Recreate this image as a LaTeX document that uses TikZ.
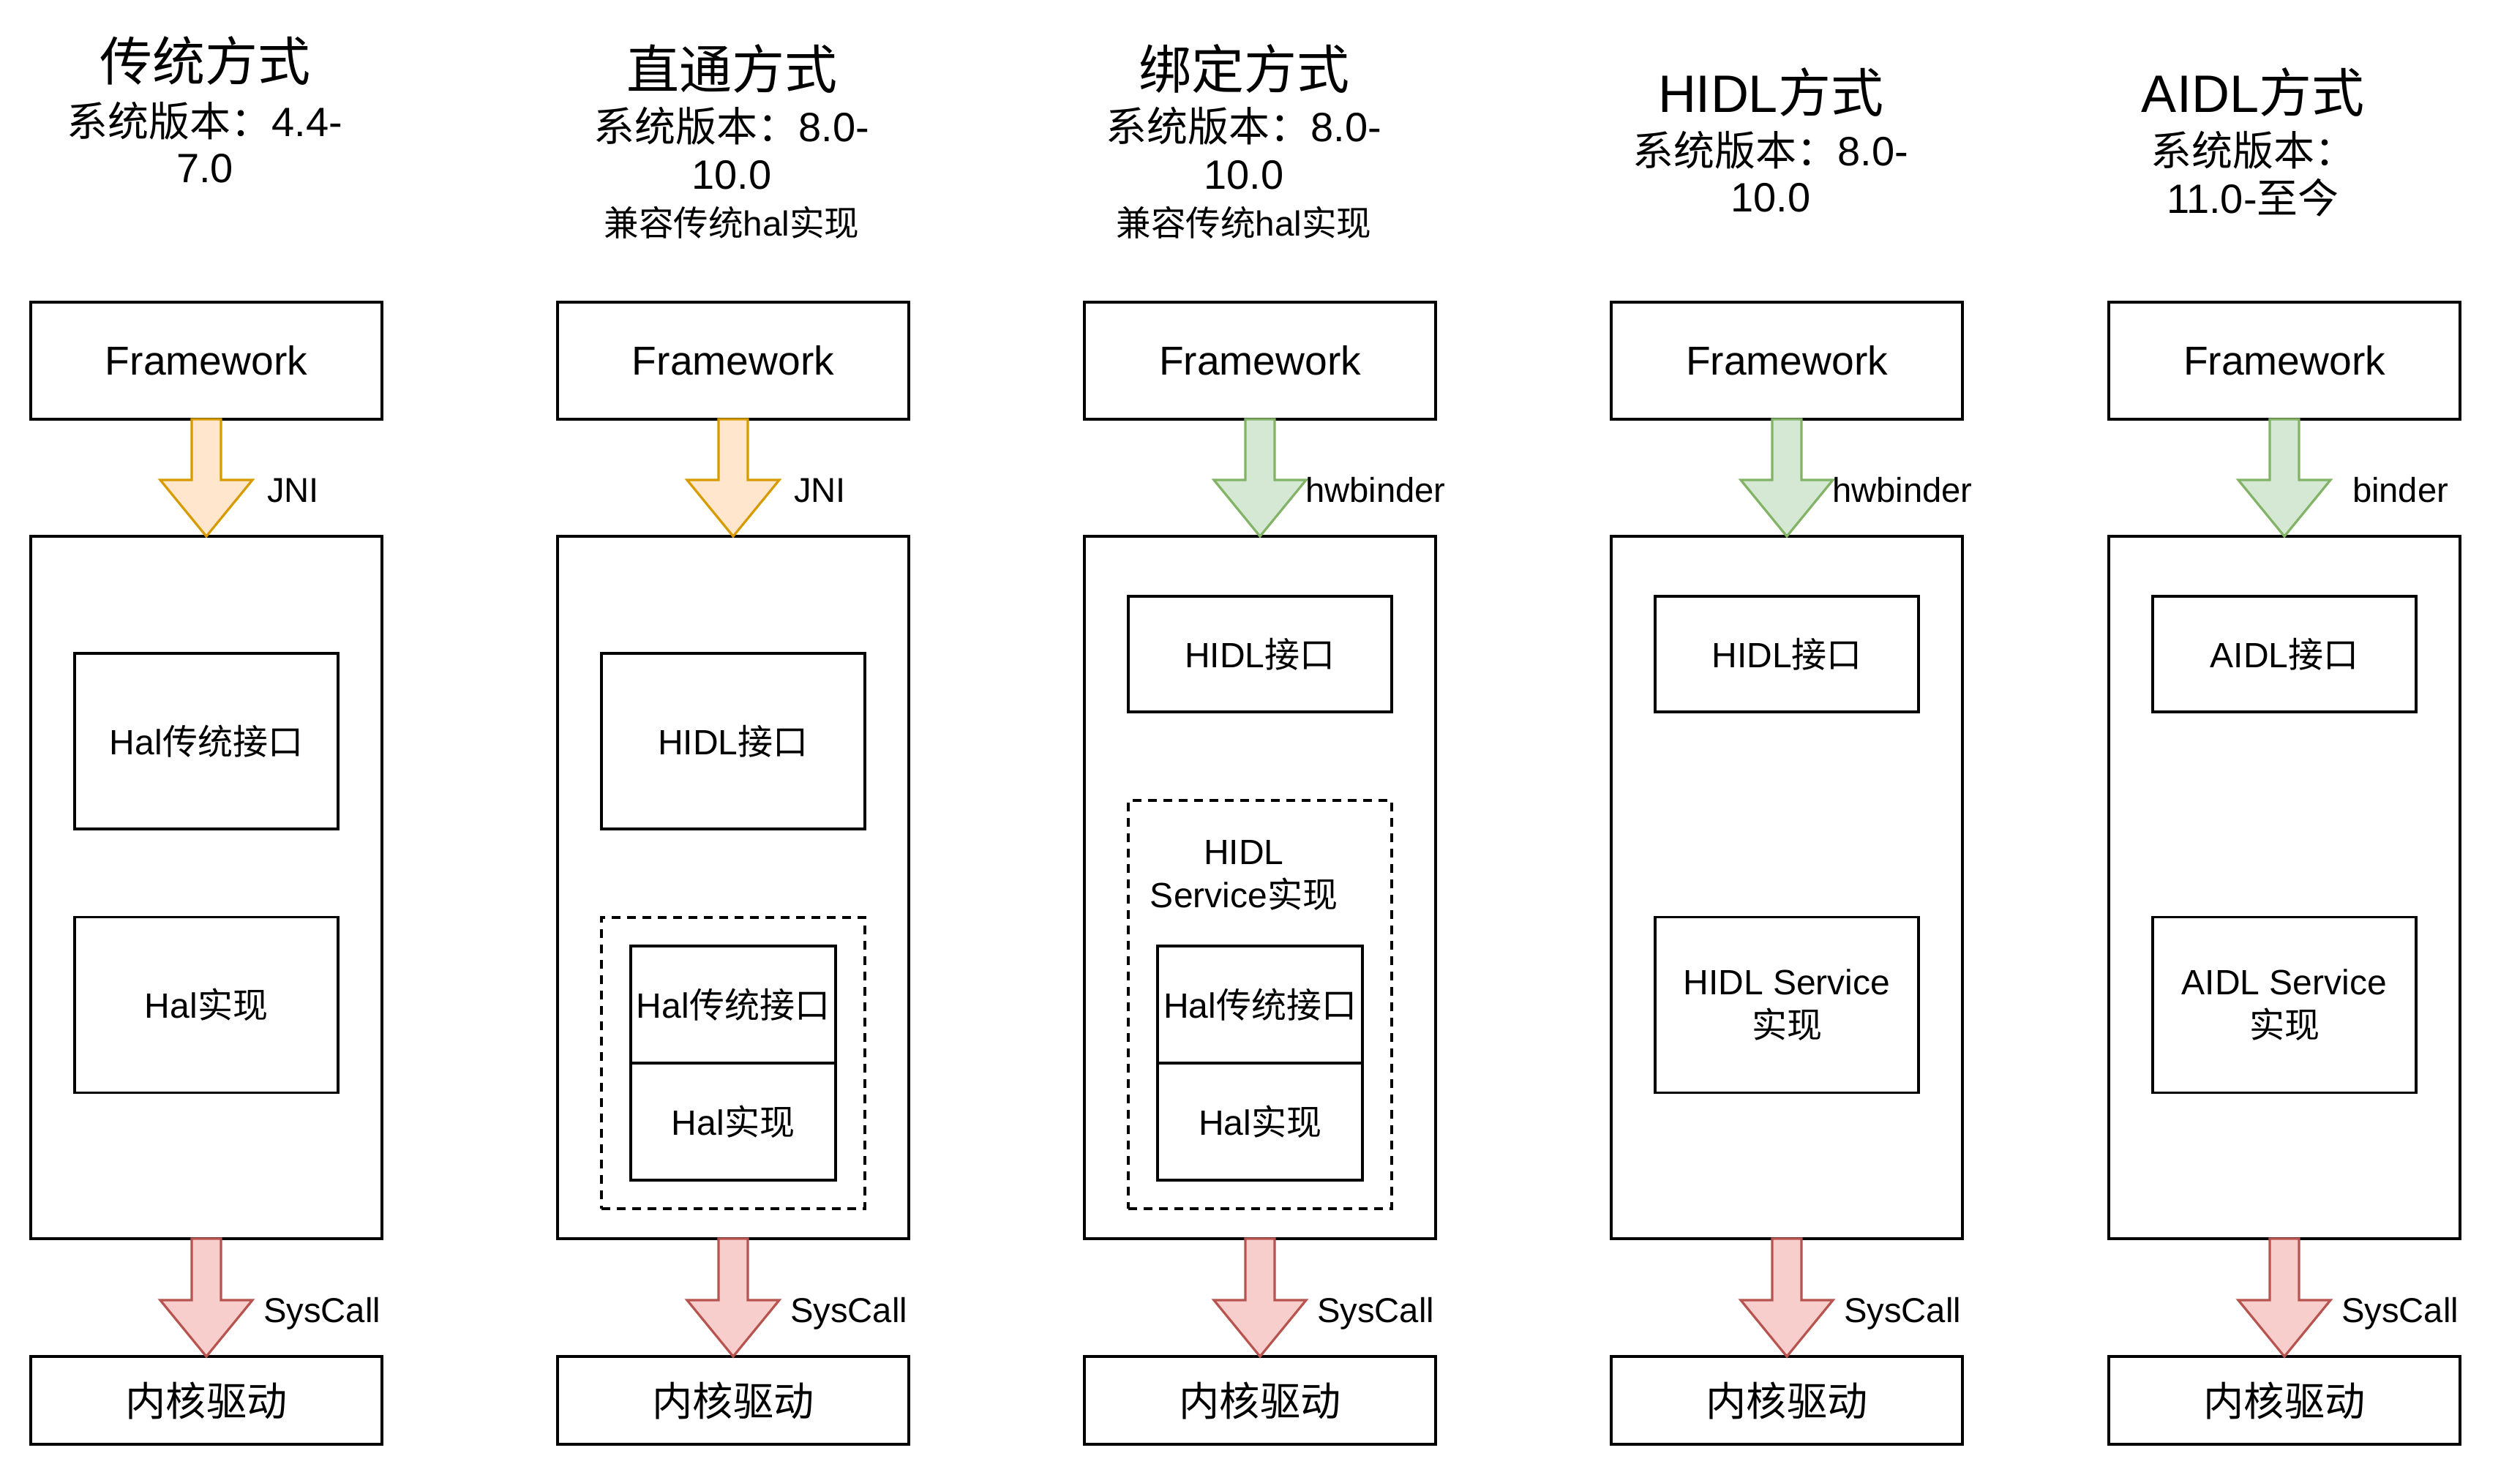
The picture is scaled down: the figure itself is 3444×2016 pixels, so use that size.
\documentclass[tikz,border=0pt]{standalone}
\usepackage{fontspec}
\setmainfont{Liberation Sans}
\newfontfamily\cjk{Noto Sans CJK SC}
\newcommand\zh[1]{{\cjk #1}}
\usetikzlibrary{calc}
\definecolor{orfill}{HTML}{FFE6CC}
\definecolor{orline}{HTML}{D79B00}
\definecolor{grfill}{HTML}{D5E8D4}
\definecolor{grline}{HTML}{82B366}
\definecolor{rdfill}{HTML}{F8CECC}
\definecolor{rdline}{HTML}{B85450}
\newcommand\fatarrow[3]{%
  \draw[#3] ($(#1.south)+(-20,0)$) -- ($(#1.south)+(20,0)$) -- ($(#2.north)+(20,-77)$) -- ($(#2.north)+(63,-77)$) -- (#2.north) -- ($(#2.north)+(-63,-77)$) -- ($(#2.north)+(-20,-77)$) -- cycle;}
\tikzset{
  every node/.style={inner sep=0pt, outer sep=0pt},
  box/.style={draw, line width=1.6pt, minimum width=240pt, align=center, font=\fontsize{27.6}{33}\selectfont},
  ibox/.style={draw, line width=1.6pt, align=center, font=\fontsize{24}{29.5}\selectfont},
  dbox/.style={draw, line width=1.6pt, dash pattern=on 6pt off 4.5pt},
  ttl/.style={font=\fontsize{36}{43}\selectfont},
  sub/.style={font=\fontsize{28}{33}\selectfont},
  sml/.style={font=\fontsize{23.8}{28}\selectfont},
  lbl/.style={anchor=base west, font=\fontsize{23.6}{28}\selectfont},
  orarr/.style={draw=orline, fill=orfill, line width=1.6pt},
  grarr/.style={draw=grline, fill=grfill, line width=1.6pt},
  rdarr/.style={draw=rdline, fill=rdfill, line width=1.6pt},
}
\begin{document}
\begin{tikzpicture}[x=0.5pt, y=-0.5pt]
\fill[white] (0,0) rectangle (3444,2016);
\useasboundingbox (0,0) rectangle (3444,2016);

% ---------- titles ----------
\node[ttl] (t1a) at (280,83) {\zh{传统方式}};
\node[sub] (t1b) at (280,165) {\zh{系统版本：}4.4-};
\node[sub] (t1c) at (280,230) {7.0};

\node[ttl] (t2a) at (1000,94) {\zh{直通方式}};
\node[sub] (t2b) at (1000,172) {\zh{系统版本：}8.0-};
\node[sub] (t2c) at (1000,239) {10.0};
\node[sml] (t2d) at (1000,304) {\zh{兼容传统}hal\zh{实现}};

\node[ttl] (t3a) at (1700,94) {\zh{绑定方式}};
\node[sub] (t3b) at (1700,172) {\zh{系统版本：}8.0-};
\node[sub] (t3c) at (1700,239) {10.0};
\node[sml] (t3d) at (1700,304) {\zh{兼容传统}hal\zh{实现}};

\node[ttl] (t4a) at (2420,126) {HIDL\zh{方式}};
\node[sub] (t4b) at (2420,205) {\zh{系统版本：}8.0-};
\node[sub] (t4c) at (2420,270) {10.0};

\node[ttl] (t5a) at (3079,126) {AIDL\zh{方式}};
\node[sub] (t5b) at (3079,205) {\zh{系统版本：}};
\node[sub] (t5c) at (3079,270) {11.0-\zh{至今}};

% ---------- column frames ----------
\foreach \i/\cx in {1/282,2/1002,3/1722,4/2442,5/3122}{
  \node[box, minimum height=80pt] (fw\i) at (\cx,493) {Framework};
  \node[box, minimum height=480pt] (main\i) at (\cx,1213) {};
  \node[box, minimum height=60pt] (kern\i) at (\cx,1914) {\zh{内核驱动}};
}

% ---------- column 1 ----------
\node[ibox, minimum width=180pt, minimum height=120pt] (hal1if) at (282,1013) {Hal\zh{传统接口}};
\node[ibox, minimum width=180pt, minimum height=120pt] (hal1im) at (282,1373.5) {Hal\zh{实现}};

% ---------- column 2 ----------
\node[ibox, minimum width=180pt, minimum height=120pt] (hidl2) at (1002,1013) {HIDL\zh{接口}};
\node[dbox, minimum width=180pt, minimum height=199pt] (dash2) at (1002,1453) {};
\node[ibox, minimum width=140pt, minimum height=80pt] (hal2if) at (1002,1373) {Hal\zh{传统接口}};
\node[ibox, minimum width=140pt, minimum height=80pt] (hal2im) at (1002,1533) {Hal\zh{实现}};

% ---------- column 3 ----------
\node[ibox, minimum width=180pt, minimum height=79pt] (hidl3) at (1722,894) {HIDL\zh{接口}};
\node[dbox, minimum width=180pt, minimum height=279pt] (dash3) at (1722,1373) {};
\node[align=center, font=\fontsize{24}{29.5}\selectfont] (dash3lbl) at (1700,1196) {HIDL\\Service\zh{实现}};
\node[ibox, minimum width=140pt, minimum height=80pt] (hal3if) at (1722,1373) {Hal\zh{传统接口}};
\node[ibox, minimum width=140pt, minimum height=80pt] (hal3im) at (1722,1533) {Hal\zh{实现}};

% ---------- column 4 ----------
\node[ibox, minimum width=180pt, minimum height=79pt] (hidl4) at (2442,894) {HIDL\zh{接口}};
\node[ibox, minimum width=180pt, minimum height=120pt] (svc4) at (2442,1373.5) {HIDL Service\\\zh{实现}};

% ---------- column 5 ----------
\node[ibox, minimum width=180pt, minimum height=79pt] (aidl5) at (3122,894) {AIDL\zh{接口}};
\node[ibox, minimum width=180pt, minimum height=120pt] (svc5) at (3122,1373.5) {AIDL Service\\\zh{实现}};

% ---------- arrows ----------
\fatarrow{fw1}{main1}{orarr}
\fatarrow{fw2}{main2}{orarr}
\fatarrow{fw3}{main3}{grarr}
\fatarrow{fw4}{main4}{grarr}
\fatarrow{fw5}{main5}{grarr}
\foreach \i in {1,...,5}{\fatarrow{main\i}{kern\i}{rdarr}}

% ---------- arrow labels ----------
\node[lbl] (l1) at (365,687) {JNI};
\node[lbl] (l2) at (1085,687) {JNI};
\node[lbl] (l3) at (1784,687) {hwbinder};
\node[lbl] (l4) at (2504,687) {hwbinder};
\node[lbl] (l5) at (3215,687) {binder};
\foreach \i/\cx in {1/282,2/1002,3/1722,4/2442,5/3122}{
  \node[lbl] (s\i) at (\cx+78,1807) {SysCall};
}
\end{tikzpicture}
\end{document}
